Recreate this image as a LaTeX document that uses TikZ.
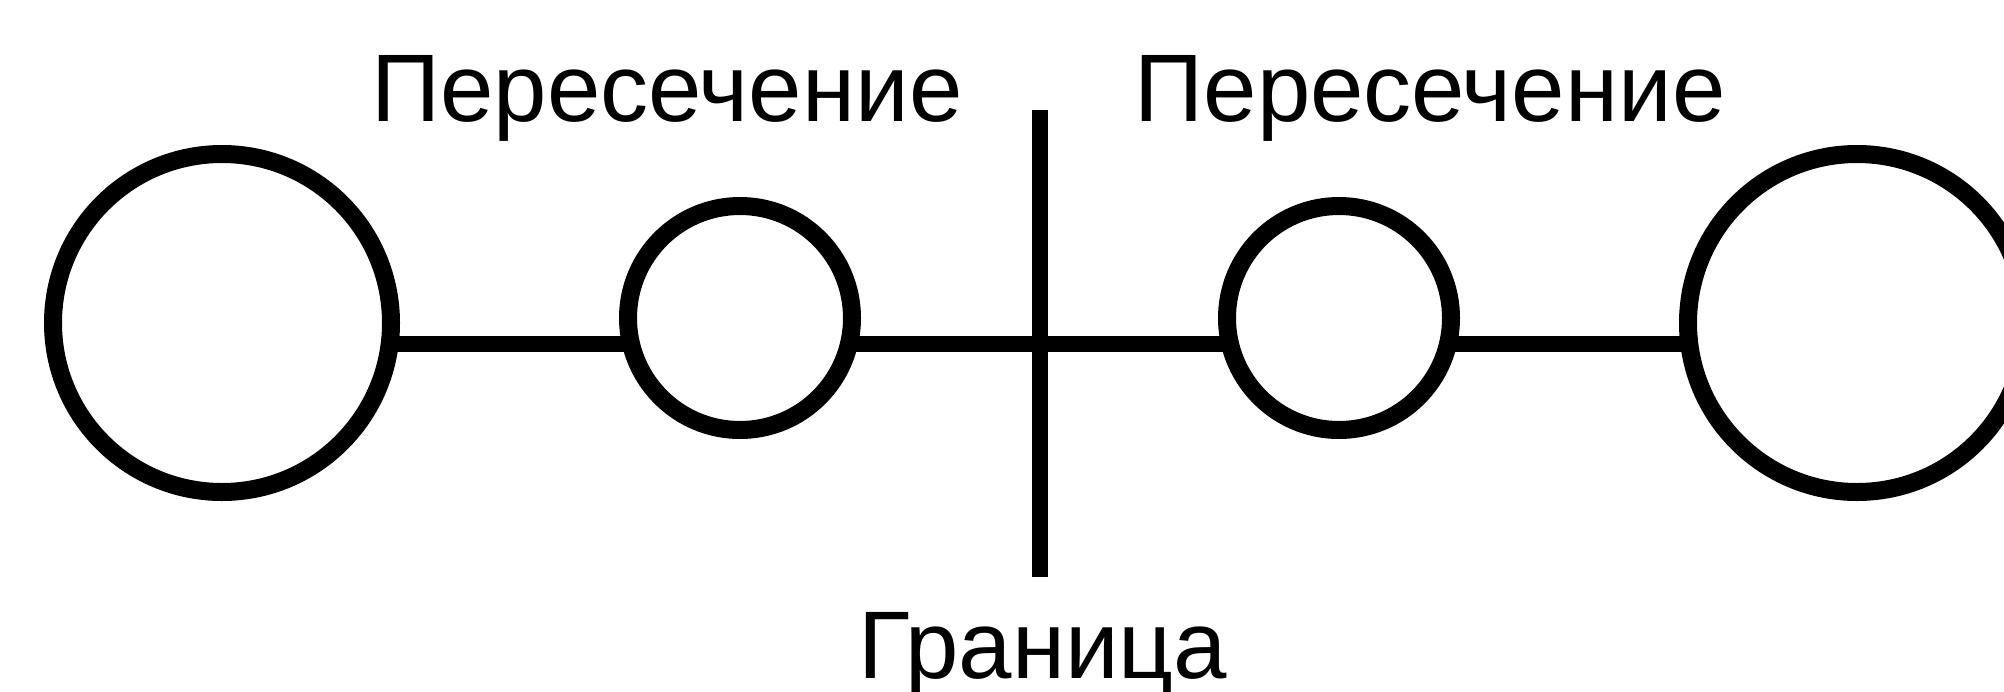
\documentclass[tikz,border=0pt]{standalone}
\usepackage{fontspec}
\setmainfont{Liberation Sans}
\begin{document}
\begin{tikzpicture}[x=1pt,y=-1pt,
  ring/.style={draw,circle,line width=18pt,inner sep=0pt,outer sep=0pt},
  bigring/.style={ring,minimum size=338pt},
  smallring/.style={ring,minimum size=224pt},
  link/.style={line width=16pt},
  lbl/.style={anchor=base,inner sep=0pt,font=\fontsize{96}{110}\selectfont}]
\useasboundingbox (0,0) rectangle (2004,691);
\clip (0,0) rectangle (2004,691);
\node[bigring] (L) at (222,323) {};
\node[smallring] (S1) at (740,318) {};
\node[smallring] (S2) at (1339,318) {};
\node[bigring] (R) at (1857,323) {};
\coordinate (btop) at (1040,110);
\coordinate (bbot) at (1040,577);
\draw[link] (L.-7) -- (S1.193 |- L.-7);
\draw[link] (S1.-13 |- L.-7) -- (S2.193 |- L.-7);
\draw[link] (S2.-13 |- L.-7) -- (R.187 |- L.-7);
\draw[link] (btop) -- (bbot);
\node[lbl] (p1) at (667,121) {Пересечение};
\node[lbl] (p2) at (1430,121) {Пересечение};
\node[lbl] (g) at (1043,678) {Граница};
\end{tikzpicture}
\end{document}
